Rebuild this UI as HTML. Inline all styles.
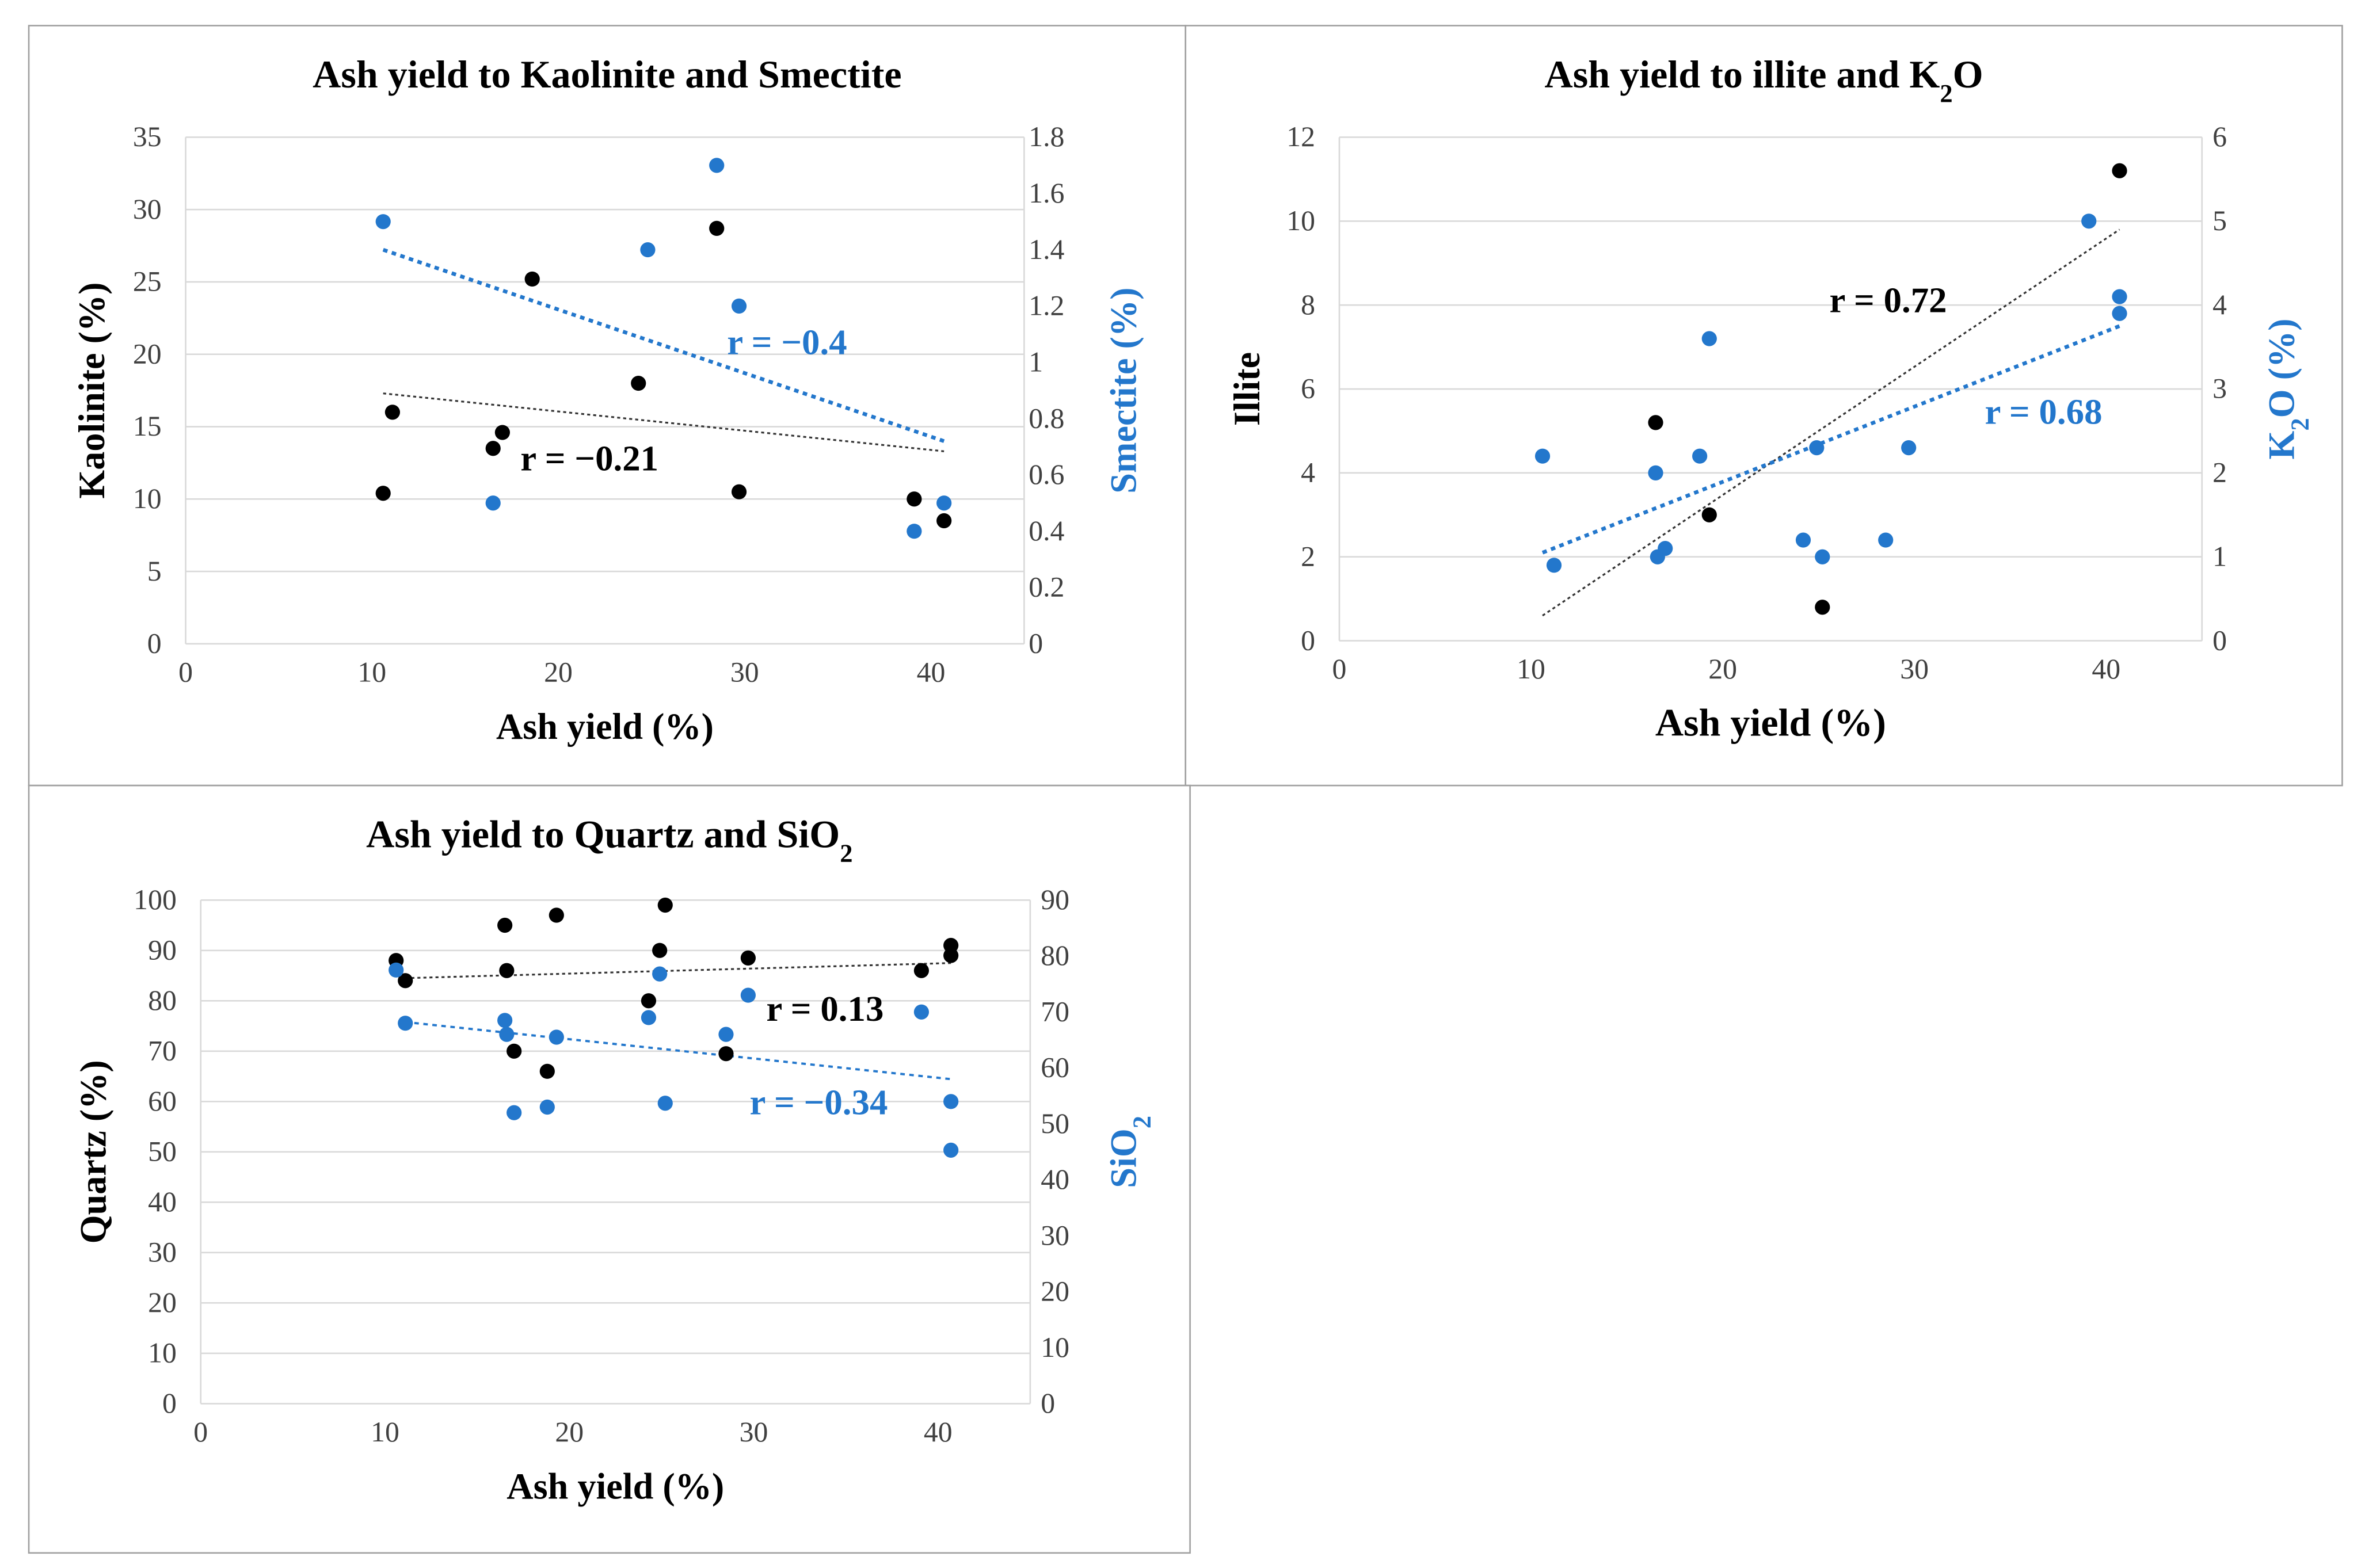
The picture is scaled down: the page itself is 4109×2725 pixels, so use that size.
<!DOCTYPE html>
<html><head><meta charset="utf-8"><style>
html,body{margin:0;padding:0;background:#fff;}
svg{display:block;font-family:"Liberation Serif",serif;}
</style></head><body>
<svg id="fig" width="4109" height="2725" viewBox="0 0 1568 1040" xmlns="http://www.w3.org/2000/svg">
<rect width="1568" height="1040" fill="#fff"/>
</svg>
<script>
// Chart 1 data
const c1Ash = [10.6,11.1,16.5,17,18.6,24.3,28.5,29.7,39.1,40.7];
const c1Kaol = [10.4,16,13.5,14.6,25.2,18,28.7,10.5,10,8.5];
const c1AshB = [10.6,16.5,24.8,28.5,29.7,39.1,40.7];
const c1Smec = [1.5,0.5,1.4,1.7,1.2,0.4,0.5];
const c1TrendK = [[10.6,17.3],[40.7,13.3]];
const c1TrendS = [[10.6,1.4],[40.7,0.72]];
const c1LeftTicks = [0,5,10,15,20,25,30,35];
const c1RightTicks = [0,0.2,0.4,0.6,0.8,1,1.2,1.4,1.6,1.8];
// Chart 2 data
const c2AshK = [16.5,19.3,25.2,40.7];
const c2Illite = [5.2,3,0.8,11.2];
const c2AshB = [10.6,11.2,16.5,16.6,17,18.8,19.3,24.2,24.9,25.2,28.5,29.7,39.1,40.7,40.7];
const c2K2O = [2.2,0.9,2,1,1.1,2.2,3.6,1.2,2.3,1,1.2,2.3,5,4.1,3.9];
const c2TrendI = [[10.6,0.6],[40.7,9.8]];
const c2TrendK = [[10.6,1.05],[40.7,3.75]];
const c2LeftTicks = [0,2,4,6,8,10,12];
const c2RightTicks = [0,1,2,3,4,5,6];
// Chart 3 data
const c3Ash = [10.6,11.1,16.5,16.6,17,18.8,19.3,24.3,24.9,25.2,28.5,29.7,39.1,40.7,40.7];
const c3Quartz = [88,84,95,86,70,66,97,80,90,99,69.5,88.5,86,91,89];
const c3SiO2 = [77.5,68,68.5,66,52,53,65.5,69,76.8,53.7,66,73,70,54,45.3];
const c3TrendQ = [[11.1,84.5],[40.7,87.5]];
const c3TrendS = [[11.1,68.2],[40.7,58]];
const c3LeftTicks = [0,10,20,30,40,50,60,70,80,90,100];
const c3RightTicks = [0,10,20,30,40,50,60,70,80,90];
const xTicks = [0,10,20,30,40];

const NS="http://www.w3.org/2000/svg";
const svg=document.getElementById('fig');
const BLUE="#2377cc";
const TICK="#404040";
function mk(tag,attrs,parent){const e=document.createElementNS(NS,tag);for(const k in attrs)e.setAttribute(k,attrs[k]);(parent||svg).appendChild(e);return e;}
function txt(s,attrs,parent){const e=mk('text',attrs,parent);e.textContent=s;return e;}

function chart(o){
  const g=mk('g',{});
  
  
  const fr=mk('rect',{x:o.frame[0],y:o.frame[1],width:o.frame[2],height:o.frame[3],fill:'#fff',stroke:'#a0a0a0','stroke-width':1},g);
  
  const X=v=>o.x0+(v-0)/(45)*(o.x1-o.x0);
  const YL=v=>o.yb-v/o.lmax*(o.yb-o.yt);
  const YR=v=>o.yb-v/o.rmax*(o.yb-o.yt);
  o.lt.forEach(t=>{
    const l=mk('line',{x1:o.x0,x2:o.x1,y1:YL(t),y2:YL(t),stroke:'#d9d9d9','stroke-width':1},g);
    
    const tl=txt(String(t),{x:o.x0-16,y:YL(t)+6,'text-anchor':'end','font-size':19,fill:TICK},g);
    
  });
  o.rt.forEach(t=>{
    const tl=txt(String(t),{x:o.x1+(o.rOff||7),y:YR(t)+6,'text-anchor':'start','font-size':19,fill:TICK},g);
    
  });
  mk('line',{x1:o.x0,x2:o.x0,y1:o.yt,y2:o.yb,stroke:'#d9d9d9'},g);
  mk('line',{x1:o.x1,x2:o.x1,y1:o.yt,y2:o.yb,stroke:'#d9d9d9'},g);
  xTicks.forEach(t=>{
    const tl=txt(String(t),{x:X(t),y:o.yb+25,'text-anchor':'middle','font-size':19,fill:TICK},g);
    
  });
  const tt=txt('',{x:(o.frame[0]*2+o.frame[2])/2,y:o.frame[1]+41,'text-anchor':'middle','font-size':26,'font-weight':'bold',fill:'#000'},g);
  tt.innerHTML=o.title;
  
  const xt=txt('Ash yield  (%)',{x:(o.x0+o.x1)/2,y:o.yb+63,'text-anchor':'middle','font-size':o.xtsize||24.5,'font-weight':'bold'},g);
  
  const cy=(o.yt+o.yb)/2;
  const yl=txt('',{x:o.ylx,y:cy,'text-anchor':'middle','font-size':24.5,'font-weight':'bold',transform:`rotate(-90 ${o.ylx} ${cy})`},g);
  yl.innerHTML=o.ylabel;
  
  const yr=txt('',{x:o.yrx,y:cy,'text-anchor':'middle','font-size':24.5,'font-weight':'bold',fill:BLUE,transform:`rotate(-90 ${o.yrx} ${cy})`},g);
  yr.innerHTML=o.yrlabel;
  
  const tb=mk('line',{x1:X(o.trendL[0][0]),y1:YL(o.trendL[0][1]),x2:X(o.trendL[1][0]),y2:YL(o.trendL[1][1]),stroke:'#333','stroke-width':1.2,'stroke-dasharray':'2,2'},g);
  
  const tbl=mk('line',{x1:X(o.trendR[0][0]),y1:YR(o.trendR[0][1]),x2:X(o.trendR[1][0]),y2:YR(o.trendR[1][1]),stroke:BLUE,'stroke-width':o.bw||2.5,'stroke-dasharray':'3,3'},g);
  
  o.lx.forEach((v,i)=>{
    const c=mk('circle',{cx:X(v),cy:YL(o.ly[i]),r:5,fill:'#000'},g);
    
  });
  o.rx.forEach((v,i)=>{
    const c=mk('circle',{cx:X(v),cy:YR(o.ry[i]),r:5,fill:BLUE},g);
    
  });
  const r1=txt(o.r1[0],{x:o.r1[1],y:o.r1[2],'font-size':24,'font-weight':'bold',fill:'#000'},g);
  
  const r2=txt(o.r2[0],{x:o.r2[1],y:o.r2[2],'font-size':24,'font-weight':'bold',fill:BLUE},g);
  
}

chart({name:'kaolinite-smectite-chart',frame:[19,17,767,504],title:'Ash yield to Kaolinite and Smectite',
  x0:123,x1:679,yt:91,yb:427,lmax:35,rmax:1.8,lt:c1LeftTicks,rt:c1RightTicks,rOff:3,
  ylabel:'Kaolinite (%)',yrlabel:'Smectite (%)',ylx:69,yrx:753,
  lx:c1Ash,ly:c1Kaol,rx:c1AshB,ry:c1Smec,trendL:c1TrendK,trendR:c1TrendS,
  r1:['r = \u22120.21',345,312],r2:['r = \u22120.4',482,235]});
chart({name:'illite-k2o-chart',frame:[786,17,767,504],title:'Ash yield to illite and K<tspan baseline-shift="sub" font-size="17">2</tspan>O',
  x0:888,x1:1460,yt:91,yb:425,lmax:12,rmax:6,lt:c2LeftTicks,rt:c2RightTicks,
  ylabel:'Illite',yrlabel:'K<tspan baseline-shift="sub" font-size="17">2</tspan>O (%)',ylx:835,yrx:1521,xtsize:26,
  lx:c2AshK,ly:c2Illite,rx:c2AshB,ry:c2K2O,trendL:c2TrendI,trendR:c2TrendK,
  r1:['r = 0.72',1213,207],r2:['r = 0.68',1316,281]});
chart({name:'quartz-sio2-chart',frame:[19,521,770,509],title:'Ash yield to  Quartz and SiO<tspan baseline-shift="sub" font-size="17">2</tspan>',
  x0:133,x1:683,yt:597,yb:931,lmax:100,rmax:90,lt:c3LeftTicks,rt:c3RightTicks,bw:1.5,
  ylabel:'Quartz (%)',yrlabel:'SiO<tspan baseline-shift="sub" font-size="17">2</tspan>',ylx:70,yrx:753,
  lx:c3Ash,ly:c3Quartz,rx:c3Ash,ry:c3SiO2,trendL:c3TrendQ,trendR:c3TrendS,
  r1:['r = 0.13',508,677],r2:['r = \u22120.34',497,739]});
</script>
</body></html>
